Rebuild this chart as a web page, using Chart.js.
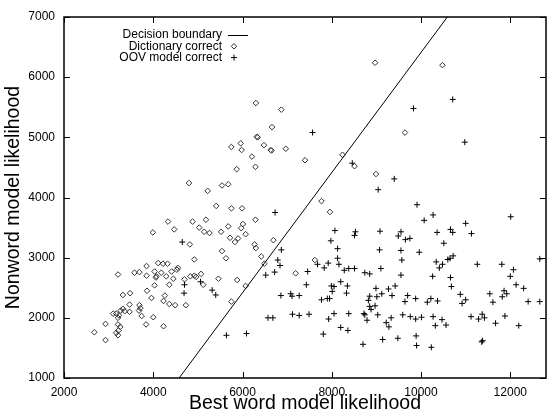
<!DOCTYPE html>
<html>
<head>
<meta charset="utf-8">
<script src="https://cdn.jsdelivr.net/npm/chart.js@4.4.1/dist/chart.umd.min.js"></script>
<style>
  html, body { margin: 0; padding: 0; background: #fff; }
</style>
</head>
<body>
<canvas id="plot" width="551" height="412"></canvas>
<script>
const xTicks = [2000, 4000, 6000, 8000, 10000, 12000];
const yTicks = [1000, 2000, 3000, 4000, 5000, 6000, 7000];

// decision boundary end points
const boundaryX = [4580, 10590];
const boundaryY = [1000, 7000];

// Dictionary correct
const dictX = [6300, 6870, 6660, 6320, 6340, 8970, 9640, 10480, 3990, 4330, 4470, 5750, 5960, 5980, 6480, 6630, 6650, 6970,
  6210, 5870, 6290, 4800, 5220, 5540, 5680, 5410, 5750, 5990, 6290, 4880, 5180, 5030, 5140, 5260, 5520, 5680, 6010, 5970,
  6070, 5720, 5830, 5900, 6270, 6300, 6690, 5540, 4820, 7400, 8240, 8510, 8990, 7770, 7960, 3850, 4110, 4220, 4320, 4550,
  4530, 3210, 3580, 3690, 3850, 4030, 4180, 4410, 4060, 4070, 4290, 4450, 4700, 4030, 4360, 3860, 3320, 3480, 3960, 4260,
  4230, 4360, 4490, 3470, 3320, 3270, 3360, 3100, 3170, 3230, 3210, 3470, 3690, 3710, 3680, 3740, 4000, 2930, 3210, 3260,
  3220, 3170, 3210, 2680, 2930, 3840, 4230, 4920, 5630, 4830, 4920, 4960, 5070, 5120, 5460, 5880, 6070, 4730, 5750, 6420,
  6490, 7190, 7620];
const dictY = [5570, 5460, 5170, 5010, 5000, 6240, 5080, 6200, 3420, 3600, 3470, 4840, 4900, 4790, 4870, 4790, 4780, 4810,
  4680, 4470, 4510, 4240, 4110, 4200, 4220, 3860, 3820, 3820, 3630, 3600, 3630, 3500, 3430, 3410, 3430, 3520, 3560, 3490,
  3390, 3330, 3260, 3320, 3220, 3160, 3290, 3110, 3220, 4620, 4710, 4520, 4390, 3940, 3760, 2860, 2910, 2900, 2900, 2830,
  2800, 2720, 2750, 2760, 2700, 2770, 2750, 2770, 2670, 2690, 2690, 2650, 2640, 2540, 2550, 2450, 2380, 2410, 2330, 2370,
  2280, 2230, 2210, 2220, 2150, 2120, 2110, 2070, 2070, 2040, 2000, 2100, 2210, 2160, 2120, 2030, 2010, 1900, 1890, 1850,
  1790, 1750, 1710, 1760, 1630, 1890, 1860, 2970, 2990, 2690, 2700, 2680, 2730, 2550, 2650, 2630, 2530, 2210, 2270, 3020,
  2900, 2740, 2960];

// OOV model correct
const oovX = [9830, 7570, 10710, 4650, 6730, 6870, 8460, 9400, 9040, 9910, 8070, 8530, 8510, 9080, 9550, 9490, 9650, 9750,
  7980, 8130, 9070, 9550, 9960, 10980, 10070, 10270, 12010, 11000, 10360, 10660, 10710, 11130, 10510, 10720, 4700, 4690,
  5060, 5320, 5400, 6790, 6840, 6520, 6720, 6860, 7080, 7110, 7270, 6570, 6680, 7120, 7270, 5640, 6090, 8130, 7680, 7920,
  8160, 7830, 7460, 8280, 8380, 8510, 8740, 8850, 9100, 9570, 9550, 7430, 7990, 8050, 8010, 8200, 8350, 8330, 7770, 7900,
  7950, 8990, 9270, 9420, 9120, 8850, 9010, 9350, 8820, 9700, 9640, 9880, 8850, 8970, 8880, 7490, 8050, 8380, 7930, 8720,
  8740, 9030, 9330, 8790, 9590, 9760, 9880, 10010, 9220, 9280, 8200, 8360, 7810, 9140, 9480, 9890, 9900, 8700, 10340,
  10480, 10410, 10600, 10650, 11260, 11810, 12070, 12660, 10260, 10660, 12000, 10680, 12130, 12300, 10880, 11000, 10920,
  11540, 11610, 11860, 11920, 11820, 10220, 10140, 10370, 12400, 12660, 10270, 11120, 11370, 11290, 11420, 11880, 10470,
  10320, 10560, 11670, 12190, 11360, 11380, 10230];
const oovY = [5480, 5080, 5630, 3260, 3750, 3130, 4570, 4310, 4130, 3880, 3450, 3430, 3370, 3440, 3430, 3360, 3300, 3320,
  3280, 3150, 3130, 3120, 3090, 4920, 3620, 3710, 3680, 3570, 3420, 3470, 3420, 3400, 3240, 3030, 2550, 2410,
  2600, 2460, 2380, 2960, 2870, 2710, 2760, 2370, 2400, 2360, 2370, 2000, 2000, 2060, 2040, 1710, 1740, 2990, 2890, 2910,
  2890, 2830, 2770, 2790, 2820, 2820, 2750, 2730, 2820, 2960, 2710, 2550, 2530, 2520, 2440, 2600, 2530, 2410, 2300, 2320,
  2320, 2490, 2480, 2530, 2400, 2360, 2350, 2370, 2290, 2370, 2270, 2320, 2190, 2200, 2140, 2060, 2070, 2070, 1980, 2070,
  2050, 2050, 2000, 1960, 2050, 2020, 1980, 2010, 1920, 1850, 1840, 1790, 1730, 1640, 1660, 1700, 1540, 1560, 2930,
  2890, 2830, 2970, 2990, 2890, 2890, 2800, 2980, 2690, 2670, 2690, 2520, 2550, 2490, 2390, 2300, 2240,
  2400, 2260, 2450, 2400, 2350, 2320, 2260, 2280, 2270, 2270, 2020, 2020, 2060, 1980, 2000, 2030, 1970,
  1870, 1880, 1910, 1870, 1600, 1620, 1510];

const legendNames = ['Decision boundary', 'Dictionary correct', 'OOV model correct'];

const font = "'Liberation Sans', Arial, Helvetica, sans-serif";
const pts = (xs, ys) => xs.map((x, i) => ({ x: x, y: ys[i] }));

// gnuplot style frame with inward ticks on all four sides
const frame = {
  id: 'frame',
  afterDraw(chart) {
    const { ctx, chartArea: a, scales } = chart;
    ctx.save();
    ctx.strokeStyle = '#000';
    ctx.lineWidth = 1.5;
    ctx.strokeRect(a.left, a.top, a.right - a.left, a.bottom - a.top);
    ctx.lineWidth = 1;
    ctx.beginPath();
    xTicks.forEach(v => {
      const px = Math.round(scales.x.getPixelForValue(v)) + 0.5;
      ctx.moveTo(px, a.bottom); ctx.lineTo(px, a.bottom - 6);
      ctx.moveTo(px, a.top); ctx.lineTo(px, a.top + 6);
    });
    yTicks.forEach(v => {
      const py = Math.round(scales.y.getPixelForValue(v)) + 0.5;
      ctx.moveTo(a.left, py); ctx.lineTo(a.left + 6, py);
      ctx.moveTo(a.right, py); ctx.lineTo(a.right - 6, py);
    });
    ctx.stroke();
    ctx.restore();
  }
};

// key in the top left, text right aligned, sample on the right
const key = {
  id: 'key',
  afterDraw(chart) {
    const ctx = chart.ctx;
    const tx = 222, sx = 238, y0 = 35, dy = 11.3;
    ctx.save();
    ctx.font = '12px ' + font;
    ctx.fillStyle = '#000';
    ctx.textAlign = 'right';
    ctx.textBaseline = 'middle';
    legendNames.forEach((t, i) => ctx.fillText(t, tx, y0 + i * dy));
    ctx.strokeStyle = '#000';
    ctx.lineWidth = 1;
    ctx.beginPath();
    ctx.moveTo(sx - 10, y0 + 0.5); ctx.lineTo(sx + 10, y0 + 0.5);
    ctx.stroke();
    const dyy = y0 + dy, r = 2.7, cx = sx - 4;
    ctx.strokeStyle = '#333';
    ctx.beginPath();
    ctx.moveTo(cx, dyy - r); ctx.lineTo(cx + r, dyy); ctx.lineTo(cx, dyy + r); ctx.lineTo(cx - r, dyy); ctx.closePath();
    ctx.stroke();
    const py = y0 + 2 * dy;
    ctx.strokeStyle = '#000';
    ctx.beginPath();
    ctx.moveTo(cx - 3, py); ctx.lineTo(cx + 3, py);
    ctx.moveTo(cx, py - 3); ctx.lineTo(cx, py + 3);
    ctx.stroke();
    ctx.restore();
  }
};

new Chart(document.getElementById('plot'), {
  type: 'scatter',
  data: {
    datasets: [
      {
        type: 'line',
        label: legendNames[0],
        data: pts(boundaryX, boundaryY),
        borderColor: '#000',
        borderWidth: 1,
        pointRadius: 0,
        fill: false
      },
      {
        label: legendNames[1],
        data: pts(dictX, dictY),
        pointStyle: 'rectRot',
        pointRadius: 2.8,
        borderColor: '#333',
        borderWidth: 1,
        backgroundColor: 'rgba(0,0,0,0)'
      },
      {
        label: legendNames[2],
        data: pts(oovX, oovY),
        pointStyle: 'cross',
        pointRadius: 3,
        borderColor: '#000',
        borderWidth: 1
      }
    ]
  },
  options: {
    responsive: false,
    animation: false,
    layout: { padding: { top: 17, right: 1, bottom: 0, left: 0 } },
    plugins: { legend: { display: false }, tooltip: { enabled: false } },
    scales: {
      x: {
        type: 'linear',
        min: 2000,
        max: 12800,
        afterBuildTicks: s => { s.ticks = xTicks.map(v => ({ value: v })); },
        afterFit: s => { s.height = 34; },
        grid: { display: false },
        border: { display: false },
        ticks: { color: '#000', padding: -1, maxRotation: 0, font: { family: font, size: 12 }, callback: v => String(v) },
        title: {
          display: true,
          text: 'Best word model likelihood',
          color: '#000',
          padding: { top: 0, bottom: -3 },
          font: { family: font, size: 19.5 }
        }
      },
      y: {
        type: 'linear',
        min: 1000,
        max: 7000,
        afterBuildTicks: s => { s.ticks = yTicks.map(v => ({ value: v })); },
        afterFit: s => { s.width = 64; },
        grid: { display: false },
        border: { display: false },
        ticks: { color: '#000', padding: 1, font: { family: font, size: 12 }, callback: v => String(v) },
        title: {
          display: true,
          text: 'Nonword model likelihood',
          color: '#000',
          padding: { top: 2, bottom: 0 },
          font: { family: font, size: 19.5 }
        }
      }
    }
  },
  plugins: [frame, key]
});
</script>
</body>
</html>
